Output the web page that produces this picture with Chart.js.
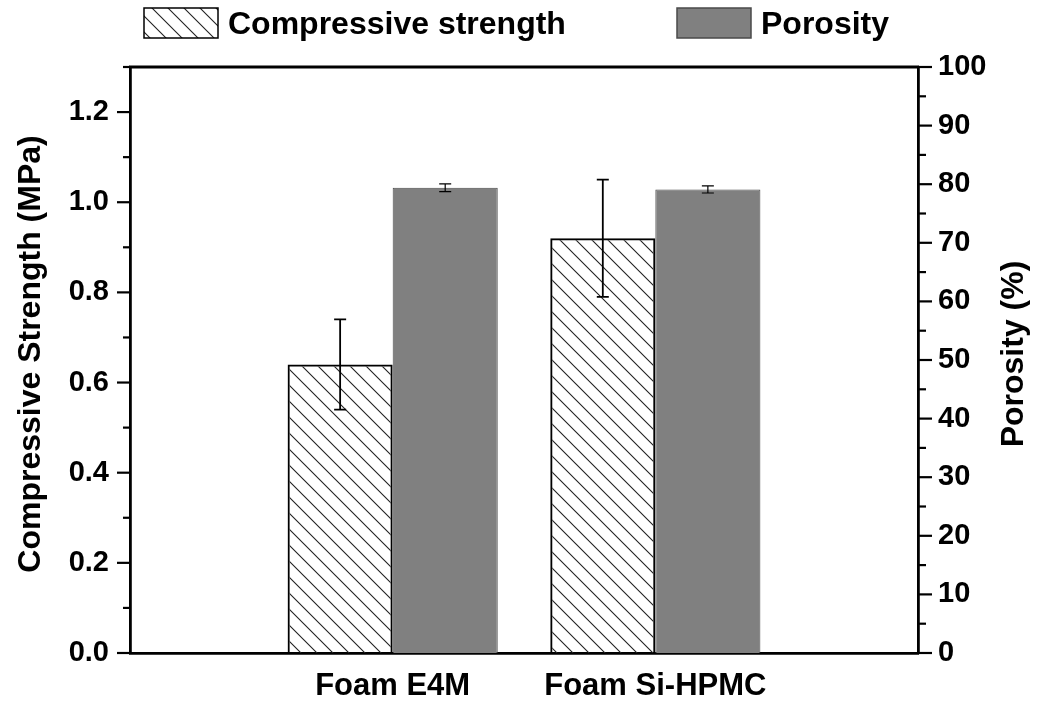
<!DOCTYPE html>
<html>
<head>
<meta charset="utf-8">
<script src="https://cdn.jsdelivr.net/npm/chart.js@4.4.0/dist/chart.umd.min.js"></script>
<style>
  html, body { margin: 0; padding: 0; background: #fff; }
  #wrap { width: 1038px; height: 701px; }
</style>
</head>
<body>
<div id="wrap"><canvas id="foamChart"></canvas></div>
<script>
// data
var categories = ['', 'Foam E4M', 'Foam Si-HPMC', ''];
var strength = [null, 0.64, 0.92, null];
var strengthErr = [null, 0.10, 0.13, null];
var porosity = [null, 79.4, 79.1, null];
var porosityErr = [null, 0.65, 0.6, null];
var strengthTickLabels = ['0.0', '0.2', '0.4', '0.6', '0.8', '1.0', '1.2'];
var porosityTickLabels = ['0', '10', '20', '30', '40', '50', '60', '70', '80', '90', '100'];

var FONT = '"Liberation Sans", Arial, sans-serif';

function makeHatch(gap) {
  var c = document.createElement('canvas');
  c.width = gap; c.height = gap;
  var g = c.getContext('2d');
  g.strokeStyle = '#222';
  g.lineWidth = 1.1;
  g.beginPath();
  g.moveTo(-1, -1); g.lineTo(gap + 1, gap + 1);
  g.moveTo(gap - 1, -1); g.lineTo(gap + 1, 1);
  g.moveTo(-1, gap - 1); g.lineTo(1, gap + 1);
  g.stroke();
  return g.createPattern(c, 'repeat');
}
var hatch = makeHatch(16);

// error bars on top of the bars
var errorBars = {
  id: 'errorBars',
  afterDatasetsDraw: function(chart) {
    var ctx = chart.ctx;
    chart.data.datasets.forEach(function(ds, di) {
      var meta = chart.getDatasetMeta(di);
      var scale = chart.scales[ds.yAxisID];
      ctx.save();
      ctx.strokeStyle = '#000';
      ctx.lineWidth = ds.errWidth;
      meta.data.forEach(function(bar, i) {
        var v = ds.data[i], e = ds.errors[i];
        if (v == null) return;
        var top = scale.getPixelForValue(v + e);
        var bot = scale.getPixelForValue(v - e);
        var x = bar.x;
        ctx.beginPath();
        ctx.moveTo(x, top); ctx.lineTo(x, bot);
        ctx.moveTo(x - 6, top); ctx.lineTo(x + 6, top);
        ctx.moveTo(x - 6, bot); ctx.lineTo(x + 6, bot);
        ctx.stroke();
      });
      ctx.restore();
    });
  }
};

// frame, major/minor ticks, axis titles and legend
var decorations = {
  id: 'decorations',
  afterDraw: function(chart) {
    var ctx = chart.ctx;
    var area = chart.chartArea;
    ctx.save();
    ctx.strokeStyle = '#000';
    ctx.lineWidth = 2.8;
    ctx.beginPath();
    ctx.moveTo(area.left - 1, area.top);
    ctx.lineTo(area.right + 1, area.top);
    ctx.stroke();

    ctx.lineWidth = 2.2;
    var yl = chart.scales.y, yr = chart.scales.y1;
    yl.ticks.forEach(function(t) {
      var py = yl.getPixelForValue(t.value);
      var len = t.label ? 13 : 7;
      ctx.beginPath(); ctx.moveTo(area.left - len, py); ctx.lineTo(area.left, py); ctx.stroke();
    });
    yr.ticks.forEach(function(t) {
      var py = yr.getPixelForValue(t.value);
      var len = t.label ? 14 : 8;
      ctx.beginPath(); ctx.moveTo(area.right, py); ctx.lineTo(area.right + len, py); ctx.stroke();
    });

    // axis titles, both reading bottom to top
    ctx.fillStyle = '#000';
    ctx.font = 'bold 32px ' + FONT;
    ctx.textAlign = 'center';
    ctx.textBaseline = 'middle';
    var cy = (area.top + area.bottom) / 2 - 6;
    ctx.save();
    ctx.translate(31, cy); ctx.rotate(-Math.PI / 2);
    ctx.fillText('Compressive Strength (MPa)', 0, 0);
    ctx.restore();
    ctx.save();
    ctx.translate(1014, cy); ctx.rotate(-Math.PI / 2);
    ctx.fillText('Porosity (%)', 0, 0);
    ctx.restore();

    // legend
    var slots = [144, 677];
    ctx.font = 'bold 32px ' + FONT;
    ctx.textAlign = 'left';
    chart.data.datasets.forEach(function(ds, i) {
      var x = slots[i];
      ctx.fillStyle = ds.backgroundColor;
      ctx.fillRect(x, 8, 74, 30);
      ctx.strokeStyle = ds.legendBorder;
      ctx.lineWidth = 1.5;
      ctx.strokeRect(x, 8, 74, 30);
      ctx.fillStyle = '#000';
      ctx.fillText(ds.label, x + 84, 25);
    });
    ctx.restore();
  }
};

var config = {
  type: 'bar',
  data: {
    labels: categories,
    datasets: [{
      label: 'Compressive strength',
      data: strength,
      errors: strengthErr,
      errWidth: 1.8,
      yAxisID: 'y',
      backgroundColor: hatch,
      borderColor: '#000',
      borderWidth: 2,
      legendBorder: '#000'
    }, {
      label: 'Porosity',
      data: porosity,
      errors: porosityErr,
      errWidth: 1.2,
      yAxisID: 'y1',
      backgroundColor: '#808080',
      borderColor: '#4a4a4a',
      borderWidth: 1,
      legendBorder: '#4a4a4a'
    }]
  },
  options: {
    responsive: true,
    maintainAspectRatio: false,
    animation: false,
    layout: { padding: { top: 67, left: 0, right: 0, bottom: 0 } },
    plugins: { legend: { display: false }, tooltip: { enabled: false } },
    datasets: { bar: { categoryPercentage: 0.8, barPercentage: 1.0 } },
    scales: {
      x: {
        offset: false,
        grid: { display: false },
        border: { color: '#000', width: 2.8 },
        ticks: { color: '#000', font: { family: FONT, size: 31, weight: 'bold' }, padding: 7, autoSkip: false, maxRotation: 0 },
        afterFit: function(s) { s.height = 48; }
      },
      y: {
        position: 'left',
        min: 0, max: 1.3,
        grid: { display: false },
        border: { color: '#000', width: 2.8 },
        ticks: {
          stepSize: 0.1, autoSkip: false, color: '#000', padding: 13,
          font: { family: FONT, size: 29, weight: 'bold' },
          callback: function(v) { var s = v.toFixed(1); return strengthTickLabels.indexOf(s) >= 0 ? s : ''; }
        },
        afterFit: function(s) { s.width = 130; }
      },
      y1: {
        position: 'right',
        min: 0, max: 100,
        grid: { display: false },
        border: { color: '#000', width: 2.8 },
        ticks: {
          stepSize: 5, autoSkip: false, color: '#000', padding: 12,
          font: { family: FONT, size: 29, weight: 'bold' },
          callback: function(v) { var s = String(Math.round(v)); return porosityTickLabels.indexOf(s) >= 0 && v % 10 === 0 ? s : ''; }
        },
        afterFit: function(s) { s.width = 120; }
      }
    }
  },
  plugins: [errorBars, decorations]
};

var ctx = document.getElementById('foamChart').getContext('2d');
new Chart(ctx, config);
</script>
</body>
</html>
